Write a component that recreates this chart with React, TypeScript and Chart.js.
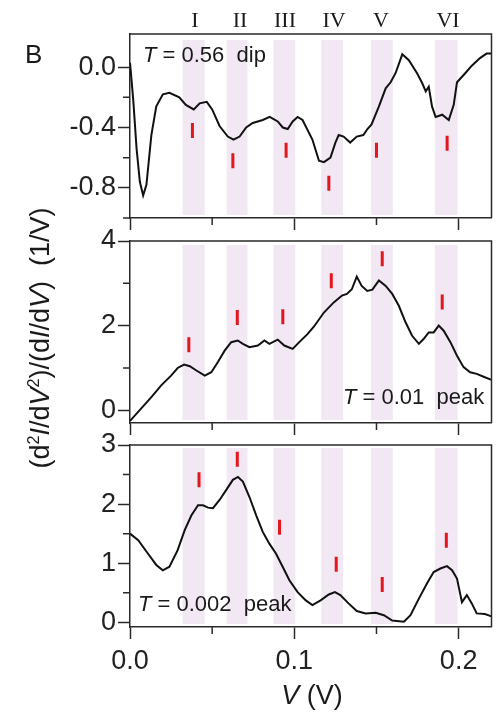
import React, { useEffect, useRef } from "react";
import { Chart, registerables } from "chart.js";
Chart.register(...registerables);

const FONT = "'Liberation Sans', Arial, Helvetica, sans-serif";
const AXIS_COLOR = "#2a2a2a";
const LINE_COLOR = "#111111";
const MARK_COLOR = "#e3161d";
const BAND_COLOR = "#f1e8f4";

// shared x axis (V, volts)
const xMin = 0;
const xMax = 0.22;
const xMajorTicks = [0, 0.1, 0.2];
const xMajorLabels = ["0.0", "0.1", "0.2"];
const xMinorTicks = [0.05, 0.15];

// shaded bands I..VI
const bandNames = ["I", "II", "III", "IV", "V", "VI"];
const bandStarts = [0.032, 0.0588, 0.0873, 0.1164, 0.1467, 0.1855];
const bandEnds = [0.0455, 0.0715, 0.1006, 0.1297, 0.16, 0.1994];

// panel 1: T = 0.56 dip
const dipV = [0, 0.002, 0.004, 0.006, 0.008, 0.01, 0.013, 0.016, 0.02, 0.024, 0.03, 0.034, 0.0388, 0.0424, 0.0467, 0.05, 0.0545, 0.0595, 0.063, 0.0667, 0.0707, 0.0747, 0.0808, 0.085, 0.0899, 0.093, 0.096, 0.099, 0.102, 0.105, 0.111, 0.115, 0.118, 0.122, 0.125, 0.127, 0.13, 0.134, 0.138, 0.142, 0.1445, 0.147, 0.1515, 0.1556, 0.1586, 0.1616, 0.1657, 0.1697, 0.1747, 0.1778, 0.18, 0.1818, 0.1838, 0.186, 0.19, 0.194, 0.197, 0.199, 0.204, 0.208, 0.213, 0.217, 0.22];
const dipValues = [0.03, -0.22, -0.54, -0.76, -0.85, -0.78, -0.45, -0.26, -0.18, -0.17, -0.2, -0.25, -0.28, -0.24, -0.23, -0.28, -0.39, -0.46, -0.48, -0.46, -0.4, -0.37, -0.35, -0.33, -0.36, -0.4, -0.41, -0.36, -0.33, -0.35, -0.48, -0.62, -0.63, -0.6, -0.5, -0.45, -0.46, -0.5, -0.46, -0.45, -0.41, -0.38, -0.26, -0.14, -0.1, -0.04, 0.085, 0.046, -0.04, -0.105, -0.16, -0.13, -0.26, -0.33, -0.315, -0.35, -0.25, -0.1, -0.04, 0.01, 0.06, 0.09, 0.09];
const dipMarkV = [0.038, 0.0626, 0.095, 0.121, 0.15, 0.193];
const dipMarkValues = [-0.42, -0.62, -0.55, -0.77, -0.55, -0.505];
const dipYMin = -1.0;
const dipYMax = 0.22;
const dipYTicks = [-0.8, -0.4, 0];
const dipYLabels = ["-0.8", "-0.4", "0.0"];
const dipYMinor = [-1.0, -0.6, -0.2];

// panel 2: T = 0.01 peak
const peak01V = [0, 0.007, 0.013, 0.019, 0.025, 0.029, 0.0329, 0.0364, 0.0404, 0.0455, 0.0495, 0.0535, 0.0576, 0.0616, 0.0656, 0.0687, 0.0727, 0.0778, 0.0818, 0.0848, 0.0899, 0.0939, 0.099, 0.103, 0.108, 0.112, 0.118, 0.124, 0.129, 0.132, 0.135, 0.138, 0.141, 0.1444, 0.1475, 0.1515, 0.1556, 0.1596, 0.1636, 0.1677, 0.1717, 0.1758, 0.1788, 0.1818, 0.1848, 0.1879, 0.1909, 0.195, 0.199, 0.203, 0.207, 0.211, 0.216, 0.22];
const peak01Values = [-0.25, 0.05, 0.31, 0.59, 0.82, 1.0, 1.08, 1.04, 0.94, 0.82, 0.9, 1.14, 1.41, 1.61, 1.65, 1.57, 1.49, 1.53, 1.65, 1.57, 1.67, 1.53, 1.45, 1.61, 1.8, 1.98, 2.31, 2.55, 2.71, 2.75, 2.86, 3.16, 2.94, 2.82, 2.85, 3.07, 2.94, 2.75, 2.47, 2.08, 1.76, 1.57, 1.69, 1.84, 1.84, 2.0, 1.88, 1.61, 1.29, 1.02, 0.9, 0.86, 0.78, 0.72];
const peak01MarkV = [0.0358, 0.0653, 0.093, 0.1225, 0.1535, 0.19];
const peak01MarkValues = [1.55, 2.19, 2.21, 3.06, 3.58, 2.56];
const peak01YMin = -0.3;
const peak01YMax = 4;
const peak01YTicks = [0, 2, 4];
const peak01YLabels = ["0", "2", "4"];
const peak01YMinor = [1, 3];

// panel 3: T = 0.002 peak
const peak002V = [0, 0.005, 0.011, 0.016, 0.02, 0.024, 0.029, 0.0333, 0.0374, 0.0414, 0.0444, 0.0475, 0.0505, 0.0545, 0.0586, 0.0626, 0.0657, 0.0687, 0.0727, 0.0768, 0.0808, 0.0848, 0.0889, 0.0929, 0.097, 0.102, 0.107, 0.111, 0.116, 0.121, 0.1247, 0.128, 0.133, 0.138, 0.1434, 0.1495, 0.1545, 0.1596, 0.1667, 0.1707, 0.1758, 0.1808, 0.1848, 0.1889, 0.1929, 0.196, 0.199, 0.202, 0.205, 0.208, 0.211, 0.216, 0.22];
const peak002Values = [1.5, 1.39, 1.16, 0.97, 0.88, 0.94, 1.22, 1.56, 1.81, 1.98, 1.98, 1.94, 1.93, 2.07, 2.24, 2.41, 2.46, 2.38, 2.12, 1.81, 1.53, 1.33, 1.16, 0.94, 0.71, 0.51, 0.37, 0.29, 0.37, 0.47, 0.51, 0.46, 0.32, 0.19, 0.15, 0.16, 0.12, 0.03, 0.01, 0.12, 0.4, 0.66, 0.85, 0.91, 0.95, 0.88, 0.74, 0.34, 0.46, 0.32, 0.15, 0.14, 0.1];
const peak002MarkV = [0.042, 0.0653, 0.091, 0.1255, 0.1535, 0.1925];
const peak002MarkValues = [2.41, 2.76, 1.61, 0.98, 0.64, 1.39];
const peak002YMin = -0.08;
const peak002YMax = 3;
const peak002YTicks = [0, 1, 2, 3];
const peak002YLabels = ["0", "1", "2", "3"];
const peak002YMinor = [0.5, 1.5, 2.5];

type PanelProps = {
  top: number;
  height: number;
  padTop: number;
  xAxisHeight: number;
  bandTopInset: number;
  xs: number[];
  ys: number[];
  markXs: number[];
  markYs: number[];
  yMin: number;
  yMax: number;
  yTicks: number[];
  yLabels: string[];
  yMinor: number[];
  showXLabels: boolean;
};

function Panel(p: PanelProps) {
  const ref = useRef<HTMLCanvasElement>(null);
  useEffect(() => {
    if (!ref.current) return;
    const decor = {
      id: "decor",
      beforeDatasetsDraw(chart: any) {
        const { ctx, chartArea } = chart;
        const x = chart.scales.x;
        ctx.save();
        ctx.fillStyle = BAND_COLOR;
        for (let i = 0; i < bandStarts.length; i++) {
          const x0 = x.getPixelForValue(bandStarts[i]);
          const x1 = x.getPixelForValue(bandEnds[i]);
          const t = chartArea.top + p.bandTopInset;
          const b = chartArea.bottom - 3;
          ctx.fillRect(x0, t, x1 - x0, b - t);
        }
        ctx.restore();
      },
      afterDraw(chart: any) {
        const { ctx, chartArea } = chart;
        const x = chart.scales.x;
        const y = chart.scales.y;
        ctx.save();
        ctx.strokeStyle = AXIS_COLOR;
        ctx.lineWidth = 1.5;
        ctx.beginPath();
        for (const v of xMinorTicks) {
          const px = x.getPixelForValue(v);
          ctx.moveTo(px, chartArea.bottom);
          ctx.lineTo(px, chartArea.bottom + 7);
        }
        for (const v of p.yMinor) {
          const py = y.getPixelForValue(v);
          ctx.moveTo(chartArea.left - 7, py);
          ctx.lineTo(chartArea.left, py);
        }
        ctx.moveTo(chartArea.left, chartArea.top);
        ctx.lineTo(chartArea.right, chartArea.top);
        ctx.lineTo(chartArea.right, chartArea.bottom);
        ctx.stroke();
        ctx.restore();
      },
    };
    const chart = new Chart(ref.current, {
      type: "line",
      data: {
        datasets: [
          {
            data: p.xs.map((v, i) => ({ x: v, y: p.ys[i] })),
            borderColor: LINE_COLOR,
            borderWidth: 2,
            pointRadius: 0,
            tension: 0,
            fill: false,
          },
          {
            data: p.markXs.map((v, i) => ({ x: v, y: p.markYs[i] })),
            showLine: false,
            pointStyle: "line",
            pointRotation: 90,
            pointRadius: 7.5,
            pointBorderColor: MARK_COLOR,
            pointBorderWidth: 3,
            borderColor: MARK_COLOR,
          },
        ],
      } as any,
      options: {
        animation: false,
        responsive: false,
        maintainAspectRatio: false,
        layout: { padding: { left: 0, right: 9, top: p.padTop, bottom: 0 } },
        plugins: { legend: { display: false }, tooltip: { enabled: false } },
        scales: {
          x: {
            type: "linear",
            min: xMin,
            max: xMax,
            afterBuildTicks: (s: any) => {
              s.ticks = xMajorTicks.map((v) => ({ value: v }));
            },
            afterFit: (s: any) => {
              s.height = p.xAxisHeight;
              s.paddingLeft = 0;
              s.paddingRight = 0;
            },
            ticks: {
              display: p.showXLabels,
              autoSkip: false,
              maxRotation: 0,
              padding: 6,
              color: "#222",
              font: { family: FONT, size: 27 },
              callback: (_v: any, i: number) => xMajorLabels[i],
            },
            grid: {
              display: true,
              drawOnChartArea: false,
              drawTicks: true,
              tickLength: 12,
              tickColor: AXIS_COLOR,
              tickWidth: 1.5,
            },
            border: { display: true, color: AXIS_COLOR, width: 1.5 },
          },
          y: {
            type: "linear",
            min: p.yMin,
            max: p.yMax,
            afterBuildTicks: (s: any) => {
              s.ticks = p.yTicks.map((v) => ({ value: v }));
            },
            afterFit: (s: any) => {
              s.width = 130;
              s.paddingTop = 0;
              s.paddingBottom = 0;
            },
            ticks: {
              autoSkip: false,
              padding: 2,
              color: "#222",
              font: { family: FONT, size: 27 },
              callback: (_v: any, i: number) => p.yLabels[i],
            },
            grid: {
              display: true,
              drawOnChartArea: false,
              drawTicks: true,
              tickLength: 12,
              tickColor: AXIS_COLOR,
              tickWidth: 1.5,
            },
            border: { display: true, color: AXIS_COLOR, width: 1.5 },
          },
        },
      } as any,
      plugins: [decor],
    });
    return () => chart.destroy();
  }, []);
  return (
    <canvas
      ref={ref}
      width={502}
      height={p.height}
      style={{ position: "absolute", left: 0, top: p.top, width: 502, height: p.height }}
    />
  );
}

const bandCentersPx = [195, 240, 285, 334, 381, 448];

export default function App() {
  const sans: React.CSSProperties = { fontFamily: FONT, color: "#1a1a1a", position: "absolute", lineHeight: 1, whiteSpace: "pre" };
  return (
    <div style={{ position: "absolute", left: 0, top: 0, width: 502, height: 713, background: "#fff", overflow: "hidden" }}>
      <Panel top={0} height={240} padTop={34} xAxisHeight={22} bandTopInset={6} xs={dipV} ys={dipValues} markXs={dipMarkV} markYs={dipMarkValues} yMin={dipYMin} yMax={dipYMax} yTicks={dipYTicks} yLabels={dipYLabels} yMinor={dipYMinor} showXLabels={false} />
      <Panel top={200} height={235} padTop={41} xAxisHeight={12} bandTopInset={4} xs={peak01V} ys={peak01Values} markXs={peak01MarkV} markYs={peak01MarkValues} yMin={peak01YMin} yMax={peak01YMax} yTicks={peak01YTicks} yLabels={peak01YLabels} yMinor={peak01YMinor} showXLabels={false} />
      <Panel top={405} height={308} padTop={40} xAxisHeight={86} bandTopInset={3} xs={peak002V} ys={peak002Values} markXs={peak002MarkV} markYs={peak002MarkValues} yMin={peak002YMin} yMax={peak002YMax} yTicks={peak002YTicks} yLabels={peak002YLabels} yMinor={peak002YMinor} showXLabels={true} />

      <div style={{ ...sans, left: 25, top: 41, fontSize: 26 }}>B</div>
      {bandNames.map((n, i) => (
        <div key={n} style={{ position: "absolute", left: bandCentersPx[i], top: 9, transform: "translateX(-50%)", fontFamily: "'Liberation Serif', 'Times New Roman', serif", fontSize: 22, lineHeight: 1, color: "#1a1a1a" }}>{n}</div>
      ))}
      <div style={{ ...sans, left: 143, top: 44, fontSize: 22 }}><i>T</i> = 0.56  dip</div>
      <div style={{ ...sans, left: 343, top: 386, fontSize: 22 }}><i>T</i> = 0.01  peak</div>
      <div style={{ ...sans, left: 138, top: 593, fontSize: 22 }}><i>T</i> = 0.002  peak</div>
      <div style={{ ...sans, left: 312, top: 682, fontSize: 27, transform: "translateX(-50%)" }}><i>V</i> (V)</div>
      <div style={{ ...sans, left: 40, top: 338, fontSize: 27, transform: "translate(-50%, -50%) rotate(-90deg)" }}>
        (d<sup style={{ fontSize: "0.6em", lineHeight: 0 }}>2</sup><i>I</i>/d<i>V</i><sup style={{ fontSize: "0.6em", lineHeight: 0 }}>2</sup>)/(d<i>I</i>/d<i>V</i>)  (1/V)
      </div>
    </div>
  );
}
